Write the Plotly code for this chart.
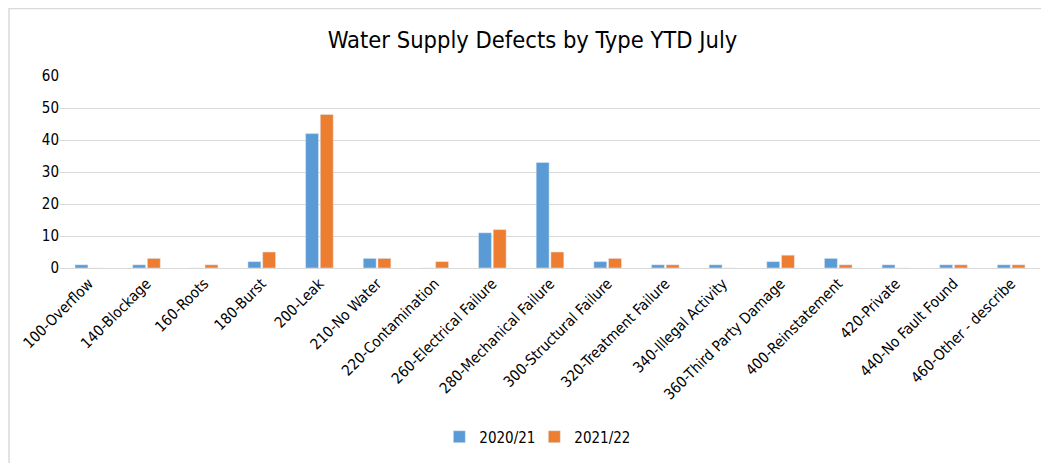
import plotly.graph_objects as go

categories = ["100-Overflow", "140-Blockage", "160-Roots", "180-Burst", "200-Leak",
              "210-No Water", "220-Contamination", "260-Electrical Failure",
              "280-Mechanical Failure", "300-Structural Failure", "320-Treatment Failure",
              "340-Illegal Activity", "360-Third Party Damage", "400-Reinstatement",
              "420-Private", "440-No Fault Found", "460-Other - describe"]
y2020 = [1, 1, 0, 2, 42, 3, 0, 11, 33, 2, 1, 1, 2, 3, 1, 1, 1]
y2021 = [0, 3, 1, 5, 48, 3, 2, 12, 5, 3, 1, 0, 4, 1, 0, 1, 1]

font = "'Liberation Sans Narrow', 'DejaVu Sans Condensed', sans-serif"

fig = go.Figure()
fig.add_trace(go.Bar(x=categories, y=y2020, name="2020/21", marker_color="#5B9BD5"))
fig.add_trace(go.Bar(x=categories, y=y2021, name="2021/22", marker_color="#ED7D31"))

# page body adds ~8px offset, so margins are trimmed to line up with the reference
fig.update_layout(
    width=1049, height=463,
    paper_bgcolor="white", plot_bgcolor="white",
    margin=dict(l=52, r=17, t=68, b=203),
    font=dict(family=font, size=15, color="#000000"),
    title=dict(text="Water Supply Defects by Type YTD July", x=0.5, xanchor="center",
               y=0.931, yanchor="middle", font=dict(size=23.5, color="#000000")),
    barmode="group", bargap=0.49, bargroupgap=0.12,
    legend=dict(orientation="h", x=0.484, xanchor="center", y=-0.88, yanchor="middle",
                font=dict(size=15, color="#000000"), itemwidth=30,
                entrywidth=50, entrywidthmode="pixels"),
    showlegend=True,
)
fig.update_yaxes(range=[0, 60], dtick=10, showgrid=True, gridcolor="#D9D9D9",
                 zeroline=False, showline=False, ticks="", automargin=False,
                 tickfont=dict(color="#000000", size=15))
fig.update_xaxes(tickangle=-45, showline=True, linecolor="#D9D9D9", ticks="", automargin=False,
                 tickfont=dict(color="#000000", size=15))
fig.add_shape(type="rect", xref="paper", yref="paper", x0=-0.052, x1=1.1, y0=-1.2, y1=1.352,
              line=dict(color="#D9D9D9", width=1.5))

fig.write_html("out.html")
